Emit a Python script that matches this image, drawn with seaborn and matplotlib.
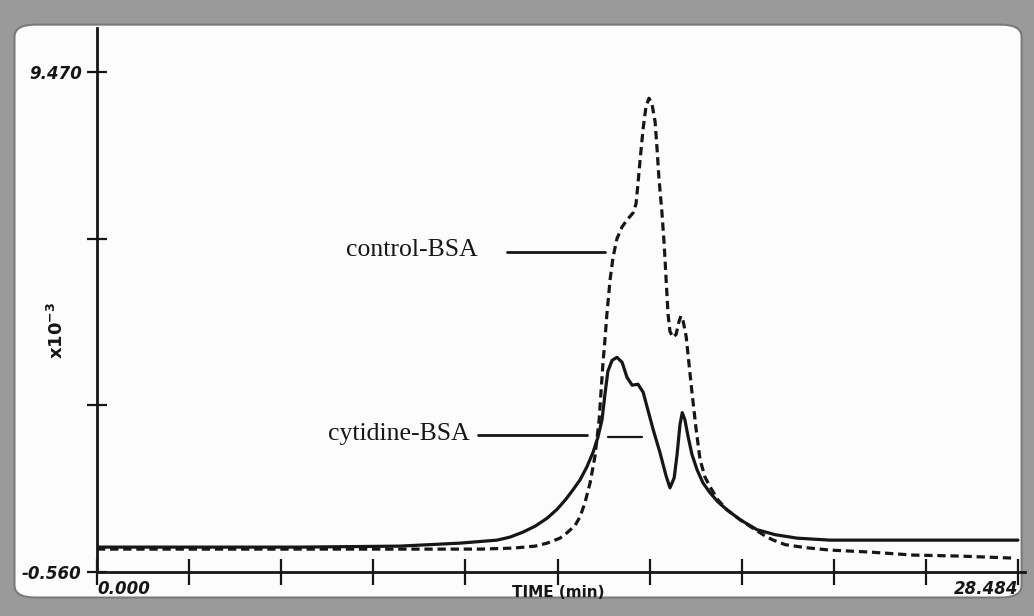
import matplotlib
matplotlib.use("Agg")
import matplotlib.pyplot as plt
from matplotlib.patches import FancyBboxPatch
import pandas as pd
import seaborn as sns

# Elution profiles (time in min, absorbance x10^-3)
time_cytidine = [0.00, 6.28, 9.37, 11.23, 12.37, 12.77, 13.17, 13.55, 13.92, 14.23,
                 14.50, 14.72, 14.94, 15.15, 15.34, 15.49, 15.62, 15.71, 15.80, 15.93,
                 16.08, 16.24, 16.39, 16.55, 16.73, 16.89, 17.01, 17.20, 17.41, 17.60,
                 17.72, 17.85, 17.94, 18.03, 18.10, 18.18, 18.28, 18.40, 18.56, 18.74,
                 18.96, 19.20, 19.48, 19.89, 20.41, 20.97, 21.65, 22.67, 24.83, 28.48]
abs_cytidine = [-0.06, -0.06, -0.04, 0.02, 0.08, 0.14, 0.24, 0.36, 0.52, 0.70,
                0.90, 1.09, 1.29, 1.55, 1.84, 2.14, 2.50, 3.01, 3.47, 3.69,
                3.75, 3.65, 3.35, 3.19, 3.21, 3.05, 2.76, 2.30, 1.84, 1.37,
                1.13, 1.33, 1.80, 2.40, 2.64, 2.50, 2.16, 1.80, 1.49, 1.23,
                1.03, 0.85, 0.69, 0.49, 0.29, 0.19, 0.12, 0.08, 0.08, 0.08]

time_control = [0.00, 9.37, 11.85, 12.87, 13.55, 13.92, 14.32, 14.54, 14.78, 14.94,
                15.09, 15.25, 15.40, 15.53, 15.65, 15.71, 15.77, 15.87, 15.96, 16.08,
                16.24, 16.42, 16.58, 16.67, 16.73, 16.80, 16.89, 16.98, 17.07, 17.16,
                17.26, 17.32, 17.38, 17.47, 17.54, 17.60, 17.66, 17.72, 17.81, 17.91,
                18.00, 18.06, 18.13, 18.22, 18.31, 18.40, 18.53, 18.65, 18.80, 18.96,
                19.20, 19.48, 19.89, 20.26, 20.60, 20.88, 21.28, 21.90, 22.67, 23.91,
                25.24, 26.69, 28.30]
abs_control = [-0.10, -0.10, -0.10, -0.08, -0.04, 0.02, 0.12, 0.23, 0.37, 0.55,
               0.83, 1.23, 1.76, 2.50, 3.65, 4.11, 4.62, 5.32, 5.76, 6.13,
               6.37, 6.53, 6.65, 6.83, 7.23, 7.74, 8.34, 8.79, 8.95, 8.85,
               8.48, 7.94, 7.34, 6.67, 6.03, 5.32, 4.62, 4.27, 4.15, 4.21,
               4.47, 4.58, 4.47, 4.17, 3.61, 3.05, 2.30, 1.70, 1.35, 1.15,
               0.89, 0.69, 0.49, 0.33, 0.19, 0.09, -0.01, -0.07, -0.12, -0.16,
               -0.22, -0.24, -0.28]

x_ticks = [0.000, 2.848, 5.697, 8.545, 11.394, 14.242, 17.090, 19.939, 22.787, 25.636, 28.484]
x_tick_labels = ["0.000", "", "", "", "", "", "", "", "", "", "28.484"]
y_ticks = [-0.560, 2.783, 6.127, 9.470]
y_tick_labels = ["-0.560", "", "", "9.470"]

df_cyt = pd.DataFrame({"time": time_cytidine, "absorbance": abs_cytidine})
df_ctl = pd.DataFrame({"time": time_control, "absorbance": abs_control})

sns.set_theme(style="white")
plt.rcParams["font.family"] = ["DejaVu Sans"]

ink = "#161616"

fig = plt.figure(figsize=(10.34, 6.16), dpi=100)
fig.patch.set_facecolor("#9a9a9a")
fig.patches.append(FancyBboxPatch((0.014, 0.030), 0.974, 0.930,
                                  boxstyle="round,pad=0,rounding_size=0.02",
                                  transform=fig.transFigure, facecolor="#fcfcfc",
                                  edgecolor="#7a7a7a", linewidth=1.5, zorder=-10))

ax = fig.add_axes([0.0938, 0.0714, 0.8975, 0.8831])
ax.set_facecolor("none")

sns.lineplot(data=df_cyt, x="time", y="absorbance", ax=ax, sort=False, estimator=None,
             color=ink, linewidth=2.3, solid_joinstyle="round")
sns.lineplot(data=df_ctl, x="time", y="absorbance", ax=ax, sort=False, estimator=None,
             color=ink, linewidth=2.3, linestyle=(0, (2.6, 1.5)))

ax.set_xlim(0, 28.70)
ax.set_ylim(-0.56, 10.36)

for side in ("top", "right"):
    ax.spines[side].set_visible(False)
for side in ("left", "bottom"):
    ax.spines[side].set_color(ink)
    ax.spines[side].set_linewidth(2.0)

ax.set_xticks(x_ticks)
ax.set_xticklabels(x_tick_labels)
ax.set_yticks(y_ticks)
ax.set_yticklabels(y_tick_labels)
ax.tick_params(axis="x", bottom=True, direction="inout", length=19, width=1.6,
               color=ink, pad=-3.5, labelsize=12)
ax.tick_params(axis="y", left=True, direction="inout", length=14, width=1.6,
               color=ink, pad=4, labelsize=12)
for lab in ax.get_xticklabels() + ax.get_yticklabels():
    lab.set_fontweight("bold")
    lab.set_fontstyle("italic")
    lab.set_color(ink)
xl = ax.get_xticklabels()
xl[0].set_horizontalalignment("left")
xl[-1].set_horizontalalignment("right")

ax.set_xlabel("")
ax.set_ylabel("")
ax.text(14.26, -0.98, "TIME (min)", ha="center", va="center", fontsize=11,
        fontweight="bold", color=ink, clip_on=False)
fig.text(0.055, 0.464, r"x10$^{\mathbf{-3}}$", rotation=90, ha="center", va="center",
         fontsize=13, fontweight="bold", color=ink)

# Curve labels with leader lines
serif = ["Liberation Serif", "DejaVu Serif"]
ax.text(11.78, 5.90, "control-BSA", ha="right", va="center", fontsize=18.5,
        family=serif, color=ink)
ax.plot([12.68, 15.71], [5.865, 5.865], color=ink, linewidth=2.0)
ax.text(11.54, 2.22, "cytidine-BSA", ha="right", va="center", fontsize=18.5,
        family=serif, color=ink)
ax.plot([11.78, 15.15], [2.20, 2.20], color=ink, linewidth=2.0)
ax.plot([15.80, 16.86], [2.16, 2.16], color=ink, linewidth=1.6)

fig.savefig("out.png", dpi=100, facecolor=fig.get_facecolor())
